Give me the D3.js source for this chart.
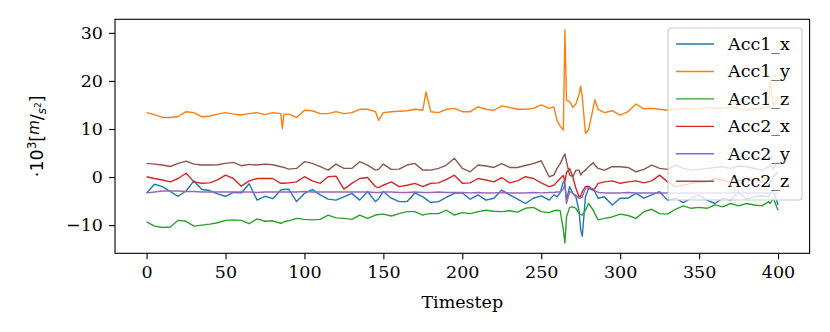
<!DOCTYPE html>
<html lang="en">
<head>
    <meta charset="UTF-8">
    <title>Accelerometer timesteps</title>
    <style>
        body { margin: 0; background: #fff; }
        text { font-family: "DejaVu Serif", serif; }
    </style>
</head>
<body>
<script src="https://cdn.jsdelivr.net/npm/d3@7"></script>
<script>
    // values, one entry per timestep below
    const timesteps = [0, 5, 10, 15, 20, 25, 30, 35, 40, 45,
        50, 55, 60, 65, 70, 75, 80, 85, 86, 87,
        90, 95, 100, 105, 110, 115, 120, 125, 130, 135,
        140, 145, 147, 150, 155, 160, 165, 170, 175, 177,
        180, 185, 190, 195, 200, 205, 210, 215, 220, 225,
        230, 235, 240, 245, 250, 255, 258, 260, 262, 264,
        265, 266, 268, 270, 272, 274, 275, 276, 278, 280,
        283, 284, 286, 290, 295, 300, 305, 310, 315, 320,
        325, 330, 335, 340, 345, 350, 355, 360, 365, 370,
        375, 380, 385, 390, 394, 395, 397, 400];

    const acc1X = [-3.3, -1.5, -2.0, -3.0, -4.0, -2.9, -0.8, -2.6, -2.8, -3.5,
        -4.0, -3.2, -3.3, -1.4, -4.8, -4.0, -4.5, -2.7, -2.6, -2.6,
        -2.5, -5.1, -3.4, -2.6, -3.7, -4.6, -4.8, -4.1, -3.4, -4.8,
        -3.0, -5.1, -4.5, -3.0, -4.4, -5.1, -5.1, -3.3, -4.1, -4.6,
        -5.3, -5.1, -4.2, -3.4, -3.3, -4.6, -3.7, -4.8, -4.4, -2.7,
        -3.7, -4.6, -5.5, -4.4, -3.9, -4.8, -3.7, -4.1, -3.3, -1.0,
        -1.3, -4.8, -2.0, -3.4, -4.1, -7.2, -11.0, -12.3, -4.1, -2.4,
        -2.7, -3.05, -4.4, -4.1, -5.8, -4.4, -4.4, -3.4, -4.4, -3.7,
        -3.05, -4.8, -4.4, -5.3, -4.4, -3.7, -4.8, -5.5, -4.4, -4.8,
        -3.05, -4.6, -4.1, -3.9, -4.1, -3.4, -2.7, -5.8];

    const acc1Y = [13.4, 13.0, 12.4, 12.4, 12.6, 13.6, 13.4, 12.5, 12.7, 13.1,
        13.4, 13.1, 12.9, 13.2, 13.4, 13.0, 13.4, 13.2, 10.1, 13.1,
        13.1, 12.4, 13.9, 13.8, 13.2, 13.2, 13.6, 13.2, 13.4, 14.1,
        14.1, 13.6, 11.8, 13.4, 13.6, 13.7, 13.8, 14.1, 13.9, 17.7,
        13.6, 13.4, 14.1, 14.3, 13.6, 13.6, 14.6, 14.1, 13.9, 14.8,
        14.5, 14.1, 14.1, 14.3, 15.0, 14.3, 14.6, 11.8, 10.6, 9.8,
        30.6, 16.0, 15.7, 14.5, 15.2, 17.3, 18.9, 16.7, 9.1, 9.8,
        14.5, 16.1, 14.1, 13.4, 13.8, 12.9, 13.6, 15.2, 14.2, 14.3,
        14.1, 13.9, 14.1, 14.3, 14.1, 14.2, 14.5, 14.3, 14.3, 14.5,
        14.3, 13.9, 14.2, 14.3, 14.5, 20.2, 14.8, 16.7];

    const acc1Z = [-9.3, -10.2, -10.5, -10.4, -9.0, -9.2, -10.2, -10.0, -9.8, -9.5,
        -9.0, -8.9, -9.0, -9.7, -8.7, -9.2, -9.1, -9.6, -9.5, -9.3,
        -9.1, -8.6, -8.8, -8.9, -8.8, -7.9, -8.5, -8.6, -8.8, -7.9,
        -8.6, -7.9, -7.8, -7.7, -8.1, -7.6, -7.2, -7.2, -7.9, -7.7,
        -7.6, -7.6, -6.9, -7.9, -7.4, -7.6, -7.2, -6.9, -7.1, -7.2,
        -7.0, -7.3, -6.5, -6.3, -7.2, -7.4, -7.0, -6.9, -7.0, -11.0,
        -13.7, -8.3, -6.3, -6.2, -6.5, -7.6, -7.8, -7.9, -6.9, -5.5,
        -6.9, -7.6, -8.9, -8.6, -8.3, -7.7, -8.0, -8.6, -7.2, -6.7,
        -7.6, -7.7, -6.7, -6.0, -6.5, -6.3, -6.5, -5.8, -6.2, -5.5,
        -6.0, -5.5, -5.8, -6.0, -5.1, -5.5, -4.4, -6.9];

    const acc2X = [0.07, -0.3, -0.6, -1.0, -0.3, 0.8, -1.0, -1.3, -1.2, -0.6,
        0.4, -0.3, -1.9, -0.8, -0.3, -0.3, -0.3, -1.3, -1.3, -1.3,
        -1.2, -1.0, 0.07, -0.8, -1.3, 0.07, 0.2, -2.5, -1.3, -0.3,
        -0.1, -2.0, -2.2, -1.7, -1.0, -2.0, -1.7, -1.3, -2.0, -1.7,
        -1.3, -1.2, -0.5, 0.4, -1.3, -1.2, -0.3, -0.6, -1.0, -0.1,
        -1.2, -0.8, 0.07, -0.3, -1.2, -2.0, -1.7, -1.0, -0.3, 0.35,
        -1.0, 0.9, 1.8, 0.07, -2.4, -4.1, -4.0, -3.05, -2.0, -1.9,
        -2.7, -2.4, -1.3, -1.0, -0.8, -1.3, -1.0, -0.8, -1.2, -0.8,
        0.4, -1.0, -2.0, -1.7, -1.3, -1.1, -1.0, -0.3, -0.6, -1.1,
        -0.8, -0.4, -0.6, -1.0, -1.3, -1.2, 0.07, 1.1];

    const acc2Y = [-3.3, -3.1, -2.9, -2.9, -2.9, -3.0, -3.0, -3.1, -3.1, -3.1,
        -3.1, -3.1, -3.1, -3.1, -3.2, -3.1, -3.1, -3.1, -3.1, -3.1,
        -3.1, -3.1, -3.0, -3.1, -3.1, -3.1, -3.1, -3.1, -3.1, -3.1,
        -3.1, -3.2, -3.2, -3.1, -3.1, -3.2, -3.2, -3.1, -3.2, -3.2,
        -3.2, -3.1, -3.2, -3.2, -3.2, -3.3, -3.2, -3.3, -3.3, -3.2,
        -3.3, -3.3, -3.3, -3.2, -3.3, -3.2, -3.2, -3.1, -3.1, -2.5,
        -1.5, -5.5, -3.0, -3.4, -3.8, -4.4, -4.3, -4.2, -2.3, -2.2,
        -2.4, -2.8, -3.2, -3.3, -3.3, -3.3, -3.2, -3.3, -3.3, -3.3,
        -3.3, -3.3, -3.3, -3.3, -3.3, -3.3, -3.3, -3.3, -3.3, -3.3,
        -3.3, -3.3, -3.3, -3.3, -3.3, -3.3, -3.4, -3.4];

    const acc2Z = [2.84, 2.7, 2.5, 2.2, 2.84, 3.3, 2.7, 2.5, 2.5, 2.56,
        2.84, 3.05, 2.36, 2.63, 2.5, 2.7, 2.56, 2.15, 2.1, 2.0,
        1.66, 1.8, 3.2, 2.84, 2.15, 1.45, 2.7, 1.8, 1.8, 3.2,
        2.5, 1.45, 1.6, 2.7, 1.6, 1.66, 2.5, 2.84, 1.45, 1.5,
        1.45, 1.8, 2.5, 3.9, 1.8, 1.1, 2.5, 2.3, 2.0, 2.8,
        2.0, 2.0, 2.4, 2.8, 3.4, 0.07, 0.4, 1.8, 2.8, 4.2,
        4.8, 3.2, 0.4, 0.07, 1.45, 1.45, 0.4, 0.9, 1.45, 2.15,
        3.0, 2.5, 1.8, 1.45, 2.15, 2.15, 2.0, 1.1, 1.6, 2.5,
        1.8, 1.6, 2.5, 1.8, 1.45, 1.6, 1.8, 2.0, 2.15, 1.8,
        2.3, 2.15, 1.8, 1.45, 2.15, 2.5, 1.8, 3.2];

    const seriesNames = ["Acc1_x", "Acc1_y", "Acc1_z", "Acc2_x", "Acc2_y", "Acc2_z"];
    const seriesValues = [acc1X, acc1Y, acc1Z, acc2X, acc2Y, acc2Z];
    const colors = ["#1f77b4", "#ff7f0e", "#2ca02c", "#d62728", "#9467bd", "#8c564b"];
    const xTicks = [0, 50, 100, 150, 200, 250, 300, 350, 400];
    const yTicks = [-10, 0, 10, 20, 30];

    const width = 830, height = 332;
    const plot = {left: 115, right: 809.6, top: 19.3, bottom: 253.3};
    const fontSize = 17.5;

    const svg = d3.select("body")
        .append("svg")
        .attr("width", width)
        .attr("height", height);

    const x = d3.scaleLinear().domain([-20, 420]).range([plot.left, plot.right]);
    const y = d3.scaleLinear().domain([-15.86, 32.82]).range([plot.bottom, plot.top]);

    svg.append("clipPath").attr("id", "clip")
        .append("rect")
        .attr("x", plot.left).attr("y", plot.top)
        .attr("width", plot.right - plot.left)
        .attr("height", plot.bottom - plot.top);

    const line = d3.line()
        .x((d, i) => x(timesteps[i]))
        .y(d => y(d));

    svg.append("g").attr("clip-path", "url(#clip)")
        .selectAll("path")
        .data(seriesValues)
        .join("path")
        .attr("d", line)
        .attr("fill", "none")
        .attr("stroke", (d, i) => colors[i])
        .attr("stroke-width", 1.4)
        .attr("stroke-linejoin", "round");

    // axes
    const xAxis = svg.append("g")
        .attr("transform", `translate(0,${plot.bottom})`)
        .call(d3.axisBottom(x).tickValues(xTicks).tickSize(6).tickPadding(6).tickSizeOuter(0));
    const yAxis = svg.append("g")
        .attr("transform", `translate(${plot.left},0)`)
        .call(d3.axisLeft(y).tickValues(yTicks).tickSize(6).tickPadding(6).tickSizeOuter(0));
    [xAxis, yAxis].forEach(g => {
        g.select(".domain").remove();
        g.selectAll(".tick line").attr("stroke", "#000").attr("stroke-width", 1.1);
        g.selectAll(".tick text")
            .attr("fill", "#000")
            .style("font-family", "DejaVu Serif")
            .style("font-size", fontSize + "px");
    });

    svg.append("rect")
        .attr("x", plot.left).attr("y", plot.top)
        .attr("width", plot.right - plot.left)
        .attr("height", plot.bottom - plot.top)
        .attr("fill", "none")
        .attr("stroke", "#000")
        .attr("stroke-width", 1.1);

    // axis labels
    svg.append("text")
        .attr("x", (plot.left + plot.right) / 2)
        .attr("y", 308)
        .attr("text-anchor", "middle")
        .style("font-size", fontSize + "px")
        .text("Timestep");

    const ylab = svg.append("text")
        .attr("transform", `translate(43,${(plot.top + plot.bottom) / 2}) rotate(-90)`)
        .attr("text-anchor", "middle")
        .style("font-family", "DejaVu Sans")
        .style("font-size", fontSize + "px");
    ylab.append("tspan").text("·10");
    ylab.append("tspan").attr("dy", -7).style("font-size", "12px").text("3");
    ylab.append("tspan").attr("dy", 7).text("[");
    ylab.append("tspan").attr("dy", -4).style("font-style", "italic").style("font-size", "15px").text("m");
    ylab.append("tspan").attr("dy", 4).text("/");
    ylab.append("tspan").attr("dy", 3).style("font-style", "italic").style("font-size", "12px").text("s");
    ylab.append("tspan").attr("dy", -5).style("font-size", "9px").text("2");
    ylab.append("tspan").attr("dy", 2).text("]");

    // legend
    const legend = svg.append("g");
    legend.append("rect")
        .attr("x", 668).attr("y", 28)
        .attr("width", 134).attr("height", 172)
        .attr("rx", 3)
        .attr("fill", "#fff").attr("fill-opacity", 0.8)
        .attr("stroke", "#ccc").attr("stroke-width", 1.1);
    const rows = legend.selectAll("g.row")
        .data(seriesNames)
        .join("g")
        .attr("class", "row")
        .attr("transform", (d, i) => `translate(0,${44 + i * 27.45})`);
    rows.append("line")
        .attr("x1", 676).attr("x2", 714)
        .attr("stroke", (d, i) => colors[i])
        .attr("stroke-width", 1.4);
    rows.append("text")
        .attr("x", 728).attr("y", 6)
        .style("font-size", fontSize + "px")
        .text(d => d);
</script>
</body>
</html>
